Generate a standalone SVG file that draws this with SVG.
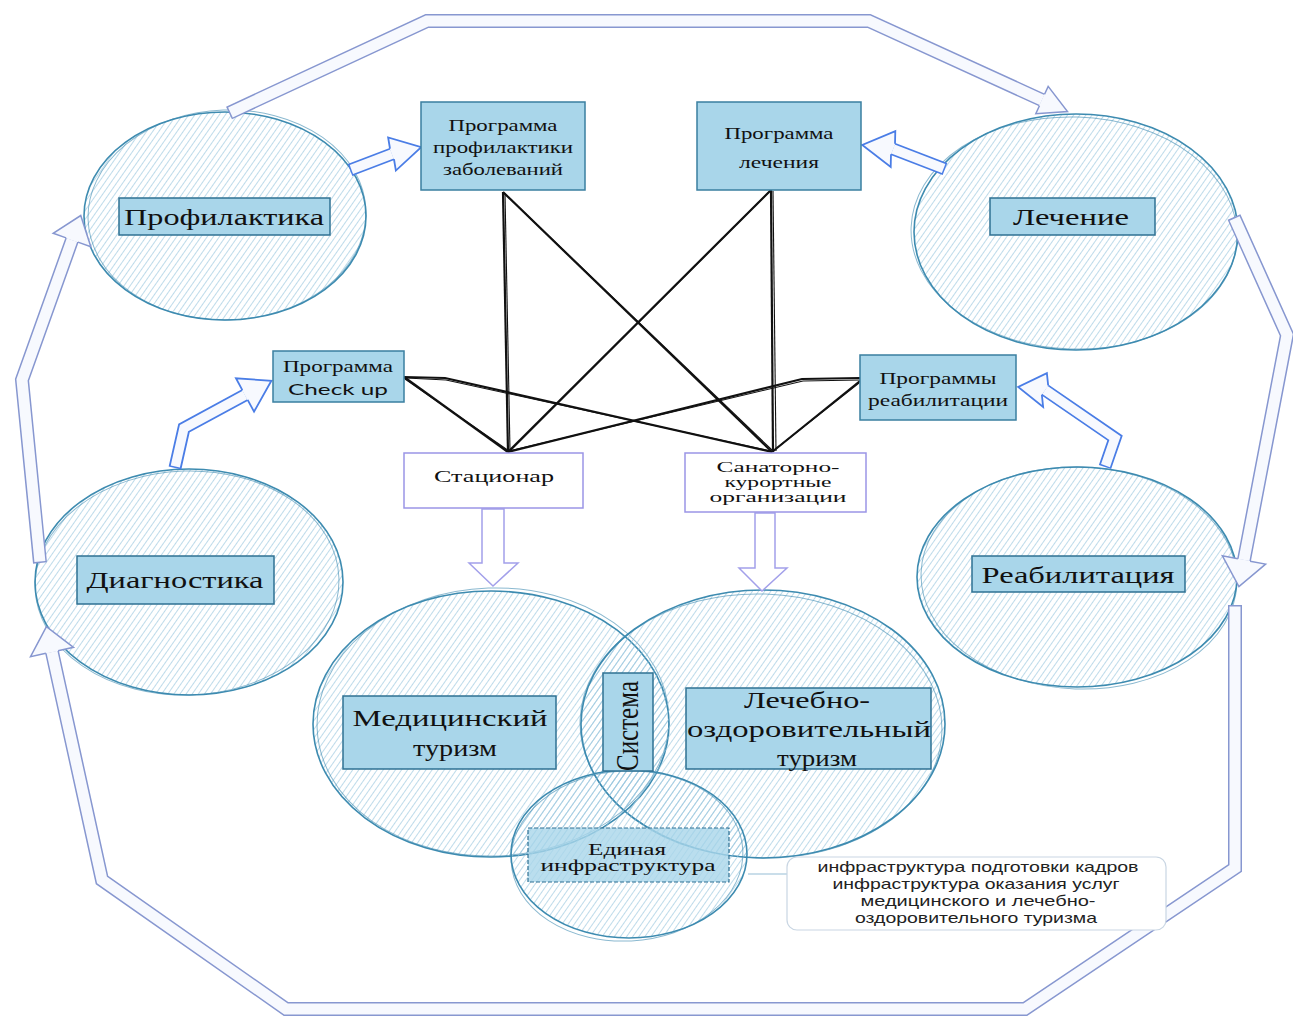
<svg xmlns="http://www.w3.org/2000/svg" width="1293" height="1016" viewBox="0 0 1293 1016">
<defs>
<pattern id="hatch" width="5" height="5" patternUnits="userSpaceOnUse" patternTransform="rotate(35)">
<line x1="0" y1="0" x2="0" y2="5" stroke="#92c2dc" stroke-width="1.2"/>
</pattern>
<style>
.circ{fill:url(#hatch);stroke:#3d8bb0;stroke-width:1.6}
.circ2{fill:none;stroke:#3d8bb0;stroke-width:1;stroke-opacity:0.6}
.lbl{fill:#a9d6ea;stroke:#2f7193;stroke-width:1.5}
.prog{fill:#a9d6ea;stroke:#3a7fa0;stroke-width:1.5}
.org{fill:#ffffff;stroke:#9b95e6;stroke-width:1.5}
.big{font-family:"Liberation Serif","Times New Roman",serif;font-size:24px;fill:#111111;text-anchor:middle}
.mid{font-family:"Liberation Serif","Times New Roman",serif;font-size:17px;fill:#111111;text-anchor:middle}
.note{font-family:"Liberation Sans",Arial,sans-serif;font-size:15px;fill:#222222;text-anchor:middle}
.hand{font-family:Lato,"Open Sans",sans-serif;font-size:16px;fill:#111111;text-anchor:middle}
.oo{fill:none;stroke:#8797d0;stroke-width:14;stroke-linejoin:miter}
.oi{fill:none;stroke:#f7f9fe;stroke-width:11;stroke-linejoin:miter}
.oh{fill:#f7f9fe;stroke:none}
.ohl{fill:none;stroke:#8797d0;stroke-width:1.5;stroke-linejoin:miter}
.bo{fill:none;stroke:#4a7de6;stroke-width:13;stroke-linejoin:miter}
.bi{fill:none;stroke:#f7f9fe;stroke-width:9.4;stroke-linejoin:miter}
.bhl{fill:none;stroke:#4a7de6;stroke-width:1.8;stroke-linejoin:miter}
.va{fill:#ffffff;stroke:#a3a0ea;stroke-width:1.5}
.ln{fill:none;stroke:#111111;stroke-width:2.2}
.ln2{fill:none;stroke:#111111;stroke-width:1.1}
</style>
</defs>
<rect width="1293" height="1016" fill="#ffffff"/>

<g id="circles">
<g id="c-prof"><ellipse class="circ" cx="225" cy="216" rx="141" ry="104"/><ellipse class="circ2" cx="227" cy="215" rx="139" ry="105" transform="rotate(-2 227 215)"/></g>
<g id="c-lech"><ellipse class="circ" cx="1076" cy="232" rx="162" ry="118"/><ellipse class="circ2" cx="1074" cy="233" rx="163" ry="116" transform="rotate(2 1074 233)"/></g>
<g id="c-diag"><ellipse class="circ" cx="189" cy="582" rx="154" ry="113"/><ellipse class="circ2" cx="187" cy="583" rx="152" ry="112" transform="rotate(-2 187 583)"/></g>
<g id="c-reab"><ellipse class="circ" cx="1077" cy="577" rx="160" ry="110"/><ellipse class="circ2" cx="1079" cy="578" rx="158" ry="111" transform="rotate(2 1079 578)"/></g>
<g id="c-med"><ellipse class="circ" cx="491" cy="724" rx="178" ry="133"/><ellipse class="circ2" cx="493" cy="722" rx="176" ry="134" transform="rotate(-2 493 722)"/></g>
<g id="c-lo"><ellipse class="circ" cx="763" cy="724" rx="182" ry="134"/><ellipse class="circ2" cx="761" cy="726" rx="181" ry="132" transform="rotate(2 761 726)"/></g>
<g id="c-ed"><ellipse class="circ" cx="629" cy="854" rx="118" ry="84"/><ellipse class="circ2" cx="627" cy="856" rx="116" ry="85" transform="rotate(-3 627 856)"/></g>
</g>

<g id="connectors">
<g id="arrow-top">
<path class="oo" d="M229,113 L427,21 L869,21 L1042,100"/>
<path class="oi" d="M230.4,112.4 L427,21 L869,21 L1042,100"/>
<polygon class="oh" points="1039.43,105.7 1035.83,113.67 1067.52,111.51 1048.17,86.33 1044.57,94.3"/>
<polyline class="ohl" points="1039.43,105.7 1035.83,113.67 1067.52,111.51 1048.17,86.33 1044.57,94.3"/>
</g>
<g id="arrow-right">
<path class="oo" d="M1234,217 L1287,335 L1244,560"/>
<path class="oi" d="M1234.6,218.4 L1287,335 L1244,560"/>
<polygon class="oh" points="1237.86,558.83 1222.39,555.87 1238.93,586.52 1265.61,564.13 1250.14,561.17"/>
<polyline class="ohl" points="1237.86,558.83 1222.39,555.87 1238.93,586.52 1265.61,564.13 1250.14,561.17"/>
</g>
<g id="arrow-bottom">
<path class="oo" d="M1235,605 L1235,868 L1025,1009 L286,1009 L102,880 L52,652"/>
<path class="oi" d="M1235,606.5 L1235,868 L1025,1009 L286,1009 L102,880 L52,652"/>
<polygon class="oh" points="58.11,650.66 73.49,647.29 46.43,626.6 30.51,656.71 45.9,653.34"/>
<polyline class="ohl" points="58.11,650.66 73.49,647.29 46.43,626.6 30.51,656.71 45.9,653.34"/>
</g>
<g id="arrow-left">
<path class="oo" d="M40,563 L22,380 L72,240"/>
<path class="oi" d="M39.9,561.5 L22,380 L72,240"/>
<polygon class="oh" points="77.89,242.1 90.83,246.73 80.74,215.52 53.17,233.27 66.12,237.9"/>
<polyline class="ohl" points="77.89,242.1 90.83,246.73 80.74,215.52 53.17,233.27 66.12,237.9"/>
</g>

<g id="arrow-prof-prog">
<path class="bo" d="M350,170 L392,154"/>
<path class="bi" d="M351.4,169.5 L392,154"/>
<polygon class="oh" points="393.99,159.24 395.86,170.56 421.2,147.2 388.14,137.44 390.01,148.76"/>
<polyline class="bhl" points="393.99,159.24 395.86,170.56 421.2,147.2 388.14,137.44 390.01,148.76"/>
</g>
<g id="arrow-lech-prog">
<path class="bo" d="M945,169 L893,149"/>
<path class="bi" d="M943.6,168.5 L893,149"/>
<polygon class="oh" points="895.01,143.78 895.3,131.15 862.26,145.03 890.7,166.85 890.99,154.22"/>
<polyline class="bhl" points="895.01,143.78 895.3,131.15 862.26,145.03 890.7,166.85 890.99,154.22"/>
</g>
<g id="arrow-diag-prog">
<path class="bo" d="M175,468 L184,428 L245,395"/>
<path class="bi" d="M175.3,466.5 L184,428 L245,395"/>
<polygon class="oh" points="247.66,399.93 254.04,411.71 271.39,380.73 235.96,378.29 242.34,390.07"/>
<polyline class="bhl" points="247.66,399.93 254.04,411.71 271.39,380.73 235.96,378.29 242.34,390.07"/>
</g>
<g id="arrow-reab-prog">
<path class="bo" d="M1105,467 L1115,438 L1045,390"/>
<path class="bi" d="M1105.5,465.6 L1115,438 L1045,390"/>
<polygon class="oh" points="1048.17,385.38 1046.87,373.1 1018.16,387.03 1043.13,406.9 1041.83,394.62"/>
<polyline class="bhl" points="1048.17,385.38 1046.87,373.1 1018.16,387.03 1043.13,406.9 1041.83,394.62"/>
</g>

<polygon class="va" points="482,509 482,563 469,563 493,586 518,563 504,563 504,509"/>
<polygon class="va" points="755,513 755,568 739,568 762,591 787,568 775,568 775,513"/>

<path class="ln" d="M503,192 L508,452"/><path class="ln2" d="M505,193 L510,451"/>
<path class="ln" d="M503,192 L772,452"/><path class="ln2" d="M505,194 L773,451"/>
<path class="ln" d="M771,190 L508,452"/><path class="ln2" d="M769,192 L510,451"/>
<path class="ln" d="M771,190 L773,452"/><path class="ln2" d="M773,191 L776,451"/>
<path class="ln" d="M404,377 L508,452"/><path class="ln2" d="M405,379 L509,451"/>
<path class="ln" d="M404,377 L445,378 L772,452"/><path class="ln2" d="M406,378 L446,380 L771,451"/>
<path class="ln" d="M860,378 L802,379 L508,452"/><path class="ln2" d="M860,380 L803,381 L509,451"/>
<path class="ln" d="M860,381 L772,452"/><path class="ln2" d="M859,383 L773,451"/>

<path d="M748,874 L787,874" fill="none" stroke="#b9d3e3" stroke-width="1.5"/>
</g>

<g id="n-prof"><rect class="lbl" x="119" y="198" width="211" height="37"/><text class="big" x="224" y="225" textLength="200" lengthAdjust="spacingAndGlyphs">Профилактика</text></g>
<g id="n-lech"><rect class="lbl" x="990" y="198" width="165" height="37"/><text class="big" x="1071" y="225" textLength="116" lengthAdjust="spacingAndGlyphs">Лечение</text></g>
<g id="n-diag"><rect class="lbl" x="77" y="556" width="197" height="48"/><text class="big" x="175" y="588" textLength="177" lengthAdjust="spacingAndGlyphs">Диагностика</text></g>
<g id="n-reab"><rect class="lbl" x="972" y="556" width="213" height="36"/><text class="big" x="1078" y="583" textLength="193" lengthAdjust="spacingAndGlyphs">Реабилитация</text></g>

<g id="n-progprof"><rect class="prog" x="421" y="102" width="164" height="88"/>
<text class="mid" x="503" y="131" textLength="109" lengthAdjust="spacingAndGlyphs">Программа</text>
<text class="mid" x="503" y="153" textLength="140" lengthAdjust="spacingAndGlyphs">профилактики</text>
<text class="mid" x="503" y="175" textLength="120" lengthAdjust="spacingAndGlyphs">заболеваний</text></g>
<g id="n-proglech"><rect class="prog" x="697" y="102" width="164" height="88"/>
<text class="mid" x="779" y="139" textLength="109" lengthAdjust="spacingAndGlyphs">Программа</text>
<text class="mid" x="779" y="168" textLength="80" lengthAdjust="spacingAndGlyphs">лечения</text></g>
<g id="n-check"><rect class="prog" x="273" y="351" width="131" height="51"/>
<text class="mid" x="338" y="372" textLength="110" lengthAdjust="spacingAndGlyphs">Программа</text>
<text class="hand" x="338" y="395" textLength="100" lengthAdjust="spacingAndGlyphs">Check up</text></g>
<g id="n-progreab"><rect class="prog" x="860" y="355" width="156" height="65"/>
<text class="mid" x="938" y="384" textLength="117" lengthAdjust="spacingAndGlyphs">Программы</text>
<text class="mid" x="938" y="406" textLength="140" lengthAdjust="spacingAndGlyphs">реабилитации</text></g>

<g id="n-stac"><rect class="org" x="404" y="453" width="179" height="55"/>
<text class="mid" x="494" y="482" textLength="120" lengthAdjust="spacingAndGlyphs">Стационар</text></g>
<g id="n-sanat"><rect class="org" x="685" y="453" width="181" height="59"/>
<text class="mid" x="778" y="472" textLength="123" lengthAdjust="spacingAndGlyphs" style="font-size:15px">Санаторно-</text>
<text class="mid" x="778" y="487" textLength="107" lengthAdjust="spacingAndGlyphs" style="font-size:15px">курортные</text>
<text class="mid" x="778" y="502" textLength="137" lengthAdjust="spacingAndGlyphs" style="font-size:15px">организации</text></g>

<g id="n-med"><rect class="lbl" x="343" y="696" width="213" height="73"/>
<text class="big" x="450" y="726" textLength="195" lengthAdjust="spacingAndGlyphs">Медицинский</text>
<text class="big" x="455" y="756" textLength="84" lengthAdjust="spacingAndGlyphs">туризм</text></g>
<g id="n-sist"><rect class="lbl" x="603" y="673" width="50" height="98"/>
<text class="big" transform="translate(638,726) rotate(-90)" x="0" y="0" textLength="90" lengthAdjust="spacingAndGlyphs" style="font-size:31px">Система</text></g>
<g id="n-lo"><rect class="lbl" x="686" y="688" width="245" height="81"/>
<text class="big" x="807" y="708" textLength="126" lengthAdjust="spacingAndGlyphs">Лечебно-</text>
<text class="big" x="809" y="737" textLength="244" lengthAdjust="spacingAndGlyphs">оздоровительный</text>
<text class="big" x="817" y="766" textLength="80" lengthAdjust="spacingAndGlyphs">туризм</text></g>
<g id="n-ed"><rect x="528" y="828" width="201" height="54" fill="#a9d6ea" fill-opacity="0.8" stroke="#2f7193" stroke-width="1.2" stroke-dasharray="4 2"/>
<text class="mid" x="627" y="855" textLength="78" lengthAdjust="spacingAndGlyphs" style="font-size:16px">Единая</text>
<text class="mid" x="628" y="871" textLength="175" lengthAdjust="spacingAndGlyphs" style="font-size:16px">инфраструктура</text></g>
<g id="n-note"><rect x="787" y="857" width="379" height="73" rx="10" fill="#ffffff" stroke="#c9d6e3" stroke-width="1.2"/>
<text class="note" x="978" y="872" textLength="321" lengthAdjust="spacingAndGlyphs">инфраструктура подготовки кадров</text>
<text class="note" x="976" y="889" textLength="287" lengthAdjust="spacingAndGlyphs">инфраструктура оказания услуг</text>
<text class="note" x="978" y="906" textLength="235" lengthAdjust="spacingAndGlyphs">медицинского и лечебно-</text>
<text class="note" x="976" y="923" textLength="242" lengthAdjust="spacingAndGlyphs">оздоровительного туризма</text></g>
</svg>
